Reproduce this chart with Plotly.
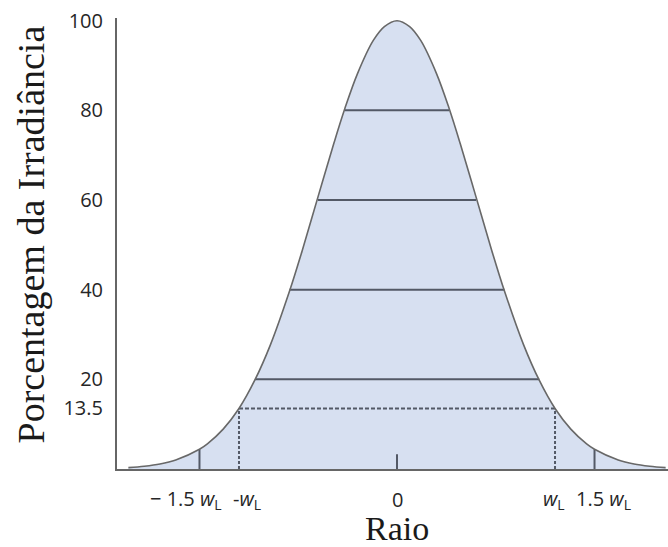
import plotly.graph_objects as go

# ---- data (radius in units of w_L, irradiance in %) ----
radius = [-1.7, -1.6, -1.5, -1.4, -1.25, -1.2, -1.1, -1.0, -0.9, -0.8, -0.68, -0.6, -0.5,
          -0.4, -0.33, -0.25, -0.15, -0.08, 0.0, 0.08, 0.15, 0.25, 0.33, 0.4, 0.5, 0.6,
          0.68, 0.8, 0.9, 1.0, 1.1, 1.2, 1.25, 1.4, 1.5, 1.6, 1.7]
irradiance = [0.3, 0.6, 1.1, 2.0, 4.4, 5.6, 8.9, 13.5, 19.8, 27.8, 39.7, 48.7, 60.7,
              72.6, 80.4, 88.2, 95.6, 98.7, 100.0, 98.7, 95.6, 88.2, 80.4, 72.6, 60.7, 48.7,
              39.7, 27.8, 19.8, 13.5, 8.9, 5.6, 4.4, 2.0, 1.1, 0.6, 0.3]

level_values = [80, 60, 40, 20]
level_halfwidths = [0.33, 0.5, 0.68, 0.9]

waist_level = 13.5
waist_radius = 1.0

marker_radius = 1.25
marker_height = 4.4
center_tick_height = 3.3

y_tick_values = [13.5, 20, 40, 60, 80, 100]
y_tick_labels = ["13.5", "20", "40", "60", "80", "100"]

x_label_values = [-1.25, -1.0, 0.0, 1.0, 1.25]
x_label_texts = ["\u2212 1.5 <i>w</i><sub>L</sub>", "-<i>w</i><sub>L</sub>", "0",
                 "<i>w</i><sub>L</sub>", "1.5 <i>w</i><sub>L</sub>"]

# ---- styles ----
FILL = "#d7e0f1"
CURVE = "#686868"
LEVEL = "#535966"
AXIS = "#666666"
TICKFONT = dict(family="Open Sans", size=20, color="#262626")
SERIF = dict(family="Liberation Serif", size=34, color="#1a1a1a")
TITLEFONT = dict(family="Liberation Serif", size=38, color="#1a1a1a")
x_label_shifts = [-13, 8, 0, -1, 9]

fig = go.Figure()

fig.add_trace(go.Scatter(x=radius, y=irradiance, mode="lines", fill="tozeroy",
                         fillcolor=FILL, line=dict(color="rgba(0,0,0,0)", width=0,
                         shape="spline", smoothing=1.0), hoverinfo="skip"))

for lv, hw in zip(level_values, level_halfwidths):
    fig.add_trace(go.Scatter(x=[-hw, hw], y=[lv, lv], mode="lines",
                             line=dict(color=LEVEL, width=2), hoverinfo="skip"))

fig.add_trace(go.Scatter(x=[-waist_radius, waist_radius], y=[waist_level, waist_level],
                         mode="lines", line=dict(color=LEVEL, width=2, dash="4px,2px")))
for s in (-1, 1):
    fig.add_trace(go.Scatter(x=[s * waist_radius, s * waist_radius], y=[0, waist_level],
                             mode="lines", line=dict(color=LEVEL, width=2, dash="3px,2px")))
    fig.add_trace(go.Scatter(x=[s * marker_radius, s * marker_radius], y=[0, marker_height],
                             mode="lines", line=dict(color=LEVEL, width=2)))
fig.add_trace(go.Scatter(x=[0, 0], y=[0, center_tick_height], mode="lines",
                         line=dict(color=LEVEL, width=2)))

fig.add_trace(go.Scatter(x=radius, y=irradiance, mode="lines",
                         line=dict(color=CURVE, width=1.6, shape="spline", smoothing=1.0),
                         hoverinfo="skip"))

for xv, txt, sh in zip(x_label_values, x_label_texts, x_label_shifts):
    fig.add_annotation(x=xv, y=0, xref="x", yref="y", text=txt, showarrow=False,
                       xanchor="center", yanchor="middle", yshift=-30, xshift=sh,
                       font=TICKFONT)

fig.add_annotation(x=0, y=0, xref="x", yref="paper", text="Raio", showarrow=False,
                   xanchor="center", yanchor="middle", yshift=-59, font=SERIF)
fig.add_annotation(x=0, y=0.52, xref="paper", yref="paper",
                   text="Porcentagem da Irradiância", showarrow=False, textangle=-90,
                   xanchor="center", yanchor="middle", xshift=-86, font=TITLEFONT)

fig.update_layout(
    width=668, height=547,
    margin=dict(l=117, r=0, t=18, b=78),
    paper_bgcolor="white", plot_bgcolor="white",
    showlegend=False,
)
fig.update_xaxes(range=[-1.772, 1.715], showline=True, linecolor=AXIS, linewidth=2,
                 showgrid=False, zeroline=False, showticklabels=False, ticks="")
fig.update_yaxes(range=[0, 100.6], showline=True, linecolor=AXIS, linewidth=2,
                 showgrid=False, zeroline=False, tickvals=y_tick_values,
                 ticktext=y_tick_labels, ticks="", ticklabelstandoff=8,
                 tickfont=TICKFONT)

fig.write_html("out.html")
